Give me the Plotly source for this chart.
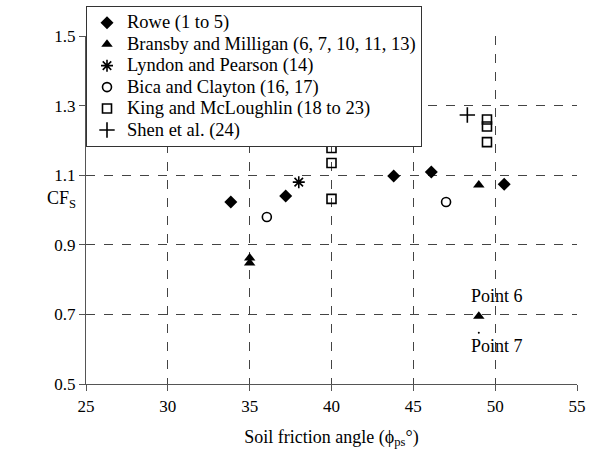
import plotly.graph_objects as go

# ---- data ----
rowe_x = [33.85, 37.2, 43.8, 46.1, 50.55]
rowe_y = [1.023, 1.04, 1.098, 1.109, 1.074]

bransby_x = [35.0, 35.0, 49.0, 49.0]
bransby_y = [0.862, 0.848, 1.072, 0.695]

point7_x = [49.0]
point7_y = [0.647]

lyndon_x = [38.0]
lyndon_y = [1.08]

bica_x = [36.05, 47.0]
bica_y = [0.98, 1.023]

king_x = [40.0, 40.0, 40.0, 49.5, 49.5, 49.5]
king_y = [1.032, 1.135, 1.178, 1.195, 1.24, 1.26]

shen_x = [48.3]
shen_y = [1.273]

series_names = ["Rowe (1 to 5)", "Bransby and Milligan (6, 7, 10, 11, 13)",
                "Lyndon and Pearson (14)", "Bica and Clayton (16, 17)",
                "King and McLoughlin (18 to 23)", "Shen et al. (24)"]

x_ticks = [25, 30, 35, 40, 45, 50, 55]
y_ticks = [0.5, 0.7, 0.9, 1.1, 1.3, 1.5]

FONT = "Liberation Serif"
FS = 18


def lg(name):
    return '<span style="font-size:18.5px">' + name + "</span>"


fig = go.Figure()
fig.add_trace(go.Scatter(x=rowe_x, y=rowe_y, mode="markers", name=lg(series_names[0]),
                         marker=dict(symbol="diamond", size=10, color="black")))
fig.add_trace(go.Scatter(x=bransby_x, y=bransby_y, mode="markers", name=lg(series_names[1]),
                         marker=dict(symbol="triangle-up", size=10, color="black")))
fig.add_trace(go.Scatter(x=lyndon_x, y=lyndon_y, mode="markers", name=lg(series_names[2]),
                         marker=dict(symbol="asterisk-open", size=10, color="black",
                                     line=dict(width=1.6, color="black"))))
fig.add_trace(go.Scatter(x=bica_x, y=bica_y, mode="markers", name=lg(series_names[3]),
                         marker=dict(symbol="circle-open", size=9, color="black",
                                     line=dict(width=1.6, color="black"))))
fig.add_trace(go.Scatter(x=king_x, y=king_y, mode="markers", name=lg(series_names[4]),
                         marker=dict(symbol="square-open", size=9, color="black",
                                     line=dict(width=1.6, color="black"))))
fig.add_trace(go.Scatter(x=shen_x, y=shen_y, mode="markers", name=lg(series_names[5]),
                         marker=dict(symbol="cross-thin-open", size=11, color="black",
                                     line=dict(width=1.6, color="black"))))
fig.add_trace(go.Scatter(x=point7_x, y=point7_y, mode="markers", showlegend=False,
                         marker=dict(symbol="circle", size=2, color="black")))

fig.add_annotation(x=50.1, y=0.753, text="Point 6", showarrow=False,
                   font=dict(family=FONT, size=FS, color="black"))
fig.add_annotation(x=50.1, y=0.609, text="Point 7", showarrow=False,
                   font=dict(family=FONT, size=FS, color="black"))
fig.add_annotation(xref="paper", yref="paper", x=-0.016, y=0.487, xanchor="right",
                   text="CF<sub>S</sub>", showarrow=False,
                   font=dict(family=FONT, size=FS, color="black"))

grid = dict(showgrid=True, gridcolor="#444444", gridwidth=1, griddash="dash",
            showline=True, linecolor="#555555", linewidth=1.3,
            ticks="outside", ticklen=6, tickcolor="#555555", tickwidth=1,
            zeroline=False, tickfont=dict(family=FONT, size=17, color="black"))

fig.update_xaxes(range=[25, 55], tickvals=x_ticks, **grid,
                 title=dict(text="Soil friction angle (ϕ<sub>ps</sub>°)",
                            font=dict(family=FONT, size=FS, color="black"), standoff=15))
fig.update_yaxes(range=[0.5, 1.5], tickvals=y_ticks, tickformat=".1f",
                 domain=[0, 348 / 378], **grid)

fig.update_layout(
    width=597, height=459,
    margin=dict(l=86, r=20, t=6, b=75, autoexpand=False),
    paper_bgcolor="white", plot_bgcolor="white",
    font=dict(family=FONT, size=FS, color="black"),
    legend=dict(x=0, y=1, xanchor="left", yanchor="top",
                bgcolor="white", bordercolor="#333333", borderwidth=1,
                font=dict(family=FONT, size=14.2, color="black"),
                itemwidth=30, tracegroupgap=0),
)

fig.write_html("out.html", config={"displayModeBar": False},
               post_script="document.body.style.margin='0';document.body.style.padding='0';")
